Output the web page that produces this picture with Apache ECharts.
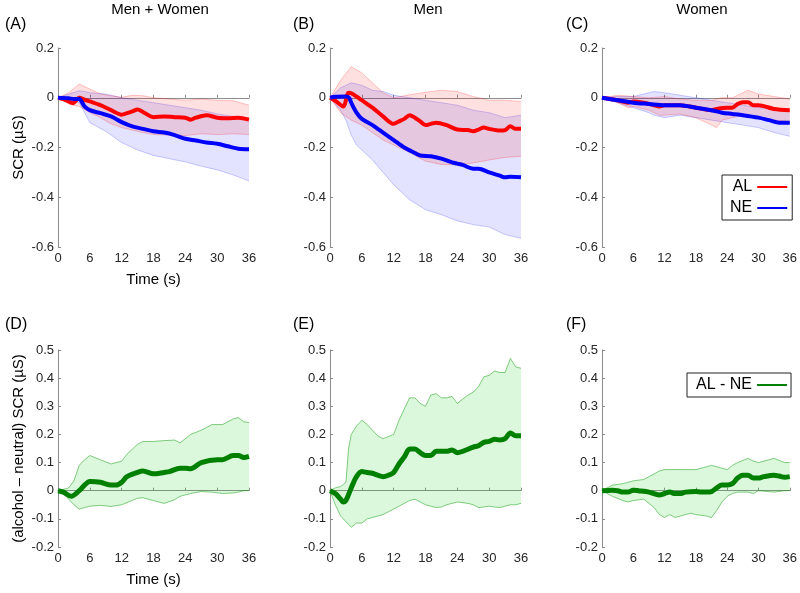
<!DOCTYPE html>
<html>
<head>
<meta charset="utf-8">
<script src="https://cdn.jsdelivr.net/npm/echarts@6/dist/echarts.min.js"></script>
<style>
  html, body { margin: 0; padding: 0; background: #fff; }
  #main { width: 800px; height: 593px; }
</style>
</head>
<body>
<div id="main"></div>
<script>
// 面板标题和刻度
var colTitles = ['Men + Women', 'Men', 'Women'];
var panelTags = ['(A)', '(B)', '(C)', '(D)', '(E)', '(F)'];
var xTicks = [0, 6, 12, 18, 24, 30, 36];

// 上排：AL / NE 均值 [t, v]
var meanA_AL = [[0,0],[1,-0.005],[2,-0.015],[2.8,-0.022],[4,0.0],[5,-0.008],[6,-0.015],[8,-0.03],[10,-0.05],[12,-0.068],[13,-0.062],[14,-0.055],[15,-0.047],[16,-0.057],[18,-0.078],[20,-0.075],[22,-0.078],[24,-0.08],[25,-0.088],[26,-0.08],[28,-0.07],[30,-0.08],[32,-0.082],[34,-0.08],[36,-0.088]];
var meanA_NE = [[0,0],[2,-0.002],[3,-0.005],[4,-0.005],[5,-0.035],[6,-0.05],[8,-0.062],[10,-0.075],[12,-0.098],[14,-0.115],[16,-0.125],[18,-0.135],[20,-0.14],[22,-0.15],[24,-0.165],[26,-0.172],[28,-0.18],[30,-0.185],[32,-0.195],[34,-0.205],[36,-0.207]];
var meanB_AL = [[0,0],[1,-0.012],[2.5,-0.035],[3.5,0.02],[4,0.018],[5,0.005],[6,-0.01],[8,-0.04],[10,-0.075],[12,-0.105],[13,-0.095],[14,-0.085],[15,-0.07],[16,-0.08],[17,-0.095],[18,-0.11],[19,-0.105],[20,-0.1],[22,-0.11],[24,-0.128],[26,-0.13],[27,-0.135],[28,-0.128],[29,-0.12],[30,-0.125],[32,-0.132],[33,-0.13],[34,-0.115],[35,-0.125],[36,-0.125]];
var meanB_NE = [[0,0],[1,0.004],[3,0.005],[3.6,0.0],[4,-0.02],[5,-0.06],[6,-0.085],[8,-0.11],[9,-0.125],[10,-0.14],[12,-0.17],[14,-0.2],[16,-0.222],[17,-0.232],[19,-0.235],[21,-0.245],[23,-0.26],[24,-0.265],[25,-0.27],[27,-0.285],[28,-0.285],[30,-0.3],[32,-0.313],[33,-0.32],[34,-0.318],[36,-0.32]];
var meanC_AL = [[0,0],[3,-0.01],[5,-0.02],[6,-0.015],[8,-0.02],[10,-0.03],[11,-0.035],[12,-0.03],[15,-0.03],[18,-0.04],[21,-0.05],[22,-0.045],[24,-0.04],[25,-0.04],[26,-0.025],[27,-0.018],[28,-0.018],[29,-0.03],[30,-0.03],[33,-0.045],[36,-0.05]];
var meanC_NE = [[0,0],[3,-0.01],[6,-0.02],[9,-0.025],[12,-0.03],[15,-0.03],[18,-0.04],[21,-0.05],[23,-0.06],[25,-0.065],[27,-0.07],[30,-0.08],[32,-0.09],[34,-0.1],[36,-0.1]];

// 上排置信带 [t, 下界, 上界]
var bandA_AL = [[0,0,0],[2,-0.025,0.02],[4,-0.035,0.055],[6,-0.06,0.035],[8,-0.08,0.015],[10,-0.105,0.008],[12,-0.12,0.002],[14,-0.13,0.01],[16,-0.14,0.008],[18,-0.148,0.0],[21,-0.15,-0.005],[24,-0.152,-0.01],[27,-0.145,-0.005],[30,-0.148,-0.01],[33,-0.145,-0.012],[36,-0.148,-0.03]];
var bandA_NE = [[0,0,0],[2,-0.01,0.015],[4,-0.02,0.028],[5,-0.06,0.025],[6,-0.1,0.02],[9,-0.135,0.015],[12,-0.18,0.0],[15,-0.21,-0.01],[18,-0.232,-0.02],[21,-0.245,-0.03],[24,-0.258,-0.04],[27,-0.275,-0.05],[30,-0.29,-0.065],[33,-0.31,-0.075],[36,-0.335,-0.085]];
var bandB_AL = [[0,0,0],[2,-0.06,0.07],[4,-0.09,0.125],[6,-0.11,0.1],[8,-0.14,0.06],[10,-0.17,0.02],[12,-0.19,0.0],[15,-0.22,0.012],[18,-0.255,0.022],[21,-0.268,0.03],[24,-0.27,0.025],[27,-0.262,0.005],[30,-0.25,-0.01],[33,-0.24,-0.01],[36,-0.235,-0.015]];
var bandB_NE = [[0,0,0],[2,-0.05,0.04],[3,-0.09,0.05],[4,-0.15,0.06],[5,-0.19,0.055],[6,-0.21,0.05],[8,-0.25,0.03],[10,-0.3,0.025],[12,-0.35,0.01],[15,-0.41,0.0],[18,-0.45,-0.01],[21,-0.47,-0.02],[24,-0.495,-0.03],[27,-0.51,-0.05],[30,-0.52,-0.06],[33,-0.55,-0.08],[36,-0.565,-0.07]];
var bandC_AL = [[0,0,0],[3,-0.02,0.01],[5,-0.04,0.007],[6,-0.035,0.005],[9,-0.05,0.0],[11,-0.07,0.003],[12,-0.07,0.005],[15,-0.065,-0.005],[18,-0.08,-0.01],[21,-0.11,-0.01],[22,-0.12,-0.005],[23,-0.09,0.0],[25,-0.08,0.0],[26,-0.075,0.01],[28,-0.07,0.03],[30,-0.08,0.015],[33,-0.09,0.005],[36,-0.095,-0.005]];
var bandC_NE = [[0,0,0],[3,-0.02,0.005],[6,-0.04,0.005],[9,-0.06,0.02],[10,-0.07,0.025],[12,-0.08,0.02],[15,-0.07,0.01],[18,-0.08,0.0],[21,-0.09,-0.01],[24,-0.1,-0.02],[27,-0.11,-0.03],[30,-0.12,-0.04],[33,-0.14,-0.045],[36,-0.155,-0.05]];

// 下排：AL - NE 差值
var diffD = [[0,0],[1,-0.005],[2.5,-0.02],[4,0.0],[5,0.02],[6,0.033],[8,0.03],[10,0.02],[11,0.02],[12,0.03],[13,0.05],[15,0.065],[16,0.07],[18,0.06],[20,0.065],[21,0.068],[23,0.08],[24,0.08],[25,0.078],[27,0.1],[30,0.11],[31,0.11],[33,0.125],[34,0.125],[35,0.118],[36,0.122]];
var diffE = [[0,0],[1,-0.01],[2,-0.03],[2.5,-0.04],[3,-0.035],[4,0.01],[5,0.05],[6,0.068],[7,0.065],[8,0.062],[9,0.055],[10,0.05],[11,0.055],[12,0.065],[13,0.095],[14,0.12],[15,0.148],[16,0.148],[17,0.135],[18,0.125],[19,0.125],[20,0.14],[21,0.14],[22,0.14],[23,0.145],[24,0.135],[25,0.14],[27,0.155],[28,0.16],[29,0.172],[30,0.175],[31,0.183],[32,0.18],[33,0.185],[34,0.205],[35,0.195],[36,0.195]];
var diffF = [[0,0],[2,0.002],[3,0.0],[4,-0.005],[5,-0.005],[6,0.002],[7,0.0],[9,-0.005],[11,-0.015],[12,-0.01],[13,-0.005],[14,-0.01],[15,-0.01],[16,-0.005],[18,-0.003],[19,-0.005],[20,-0.005],[21,-0.003],[22,0.01],[23,0.02],[24,0.02],[25,0.025],[26,0.045],[27,0.055],[28,0.055],[29,0.045],[30,0.045],[31,0.05],[33,0.055],[34,0.052],[35,0.048],[36,0.05]];
var bandD = [[0,0,0],[1,-0.01,0.005],[2,-0.03,0.01],[3,-0.05,0.035],[4,-0.065,0.09],[5,-0.06,0.11],[6,-0.055,0.125],[8,-0.052,0.11],[10,-0.056,0.095],[12,-0.05,0.105],[13,-0.042,0.13],[15,-0.027,0.165],[16,-0.025,0.175],[18,-0.035,0.175],[20,-0.045,0.178],[22,-0.032,0.18],[23,-0.02,0.17],[25,-0.01,0.2],[27,-0.003,0.215],[29,-0.005,0.235],[31,-0.01,0.235],[33,-0.008,0.255],[34,-0.005,0.26],[35,0.0,0.245],[36,0.0,0.242]];
var bandE = [[0,0,0],[1,-0.05,0.01],[2,-0.09,0.015],[3,-0.11,0.03],[3.5,-0.12,0.15],[4,-0.13,0.2],[5,-0.115,0.23],[6,-0.115,0.25],[7,-0.1,0.235],[8,-0.095,0.215],[9,-0.09,0.195],[10,-0.085,0.185],[12,-0.065,0.2],[13,-0.055,0.25],[14,-0.045,0.29],[15,-0.035,0.33],[16,-0.03,0.33],[17,-0.04,0.31],[18,-0.05,0.3],[19,-0.055,0.34],[20,-0.06,0.345],[21,-0.058,0.33],[22,-0.05,0.33],[23,-0.045,0.335],[24,-0.04,0.31],[26,-0.045,0.34],[27,-0.05,0.35],[28,-0.06,0.37],[29,-0.058,0.405],[30,-0.055,0.41],[31,-0.058,0.425],[32,-0.06,0.42],[33,-0.055,0.42],[34,-0.05,0.47],[35,-0.05,0.44],[36,-0.045,0.435]];
var bandF = [[0,0,0],[2,-0.02,0.02],[4,-0.035,0.025],[5,-0.04,0.03],[6,-0.035,0.035],[8,-0.03,0.04],[10,-0.06,0.06],[11,-0.085,0.07],[12,-0.095,0.075],[13,-0.085,0.075],[14,-0.095,0.075],[15,-0.09,0.075],[17,-0.08,0.075],[18,-0.085,0.075],[20,-0.09,0.085],[21,-0.095,0.09],[22,-0.07,0.085],[23,-0.04,0.08],[24,-0.02,0.075],[25,-0.01,0.09],[26,-0.005,0.1],[28,-0.005,0.115],[29,-0.01,0.105],[30,0.0,0.1],[33,-0.005,0.115],[35,0.0,0.1],[36,0.0,0.1]];

var RED = '#ff0000', BLUE = '#0000ff', GREEN = '#008000';

var chart = echarts.init(document.getElementById('main'));

var lefts = [58, 330, 602];
var grids = [], xAxes = [], yAxes = [];
for (var r = 0; r < 2; r++) {
  for (var c = 0; c < 3; c++) {
    var i = r * 3 + c;
    grids.push({ left: lefts[c], width: 191, top: r === 0 ? 48 : 350, height: r === 0 ? 199 : 197 });
    xAxes.push({
      type: 'value', gridIndex: i, min: 0, max: 36, interval: 6,
      name: c === 0 ? 'Time (s)' : '', nameLocation: 'middle', nameGap: 25,
      nameTextStyle: { fontSize: 15, color: '#000', fontFamily: 'Liberation Sans' },
      axisLine: { lineStyle: { color: '#8c8c8c' } },
      axisTick: { inside: true, length: 3, lineStyle: { color: '#8c8c8c' } },
      axisLabel: { fontSize: 13, color: '#262626', margin: 5, fontFamily: 'Liberation Sans' },
      splitLine: { show: false }
    });
    yAxes.push({
      type: 'value', gridIndex: i,
      min: r === 0 ? -0.6 : -0.2, max: r === 0 ? 0.2 : 0.5, interval: r === 0 ? 0.2 : 0.1,
      name: c === 0 ? (r === 0 ? 'SCR (µS)' : '(alcohol – neutral) SCR (µS)') : '',
      nameLocation: 'middle', nameGap: 32,
      nameTextStyle: { fontSize: 15, color: '#000', fontFamily: 'Liberation Sans' },
      axisLine: { show: true, lineStyle: { color: '#8c8c8c' } },
      axisTick: { show: true, inside: true, length: 3, lineStyle: { color: '#8c8c8c' } },
      axisLabel: { fontSize: 13, color: '#262626', margin: 4, fontFamily: 'Liberation Sans' },
      splitLine: { show: false }
    });
  }
}

// 置信带：custom 系列，用坐标轴换算画多边形
function bandSeries(band, idx, edge, fill) {
  return {
    type: 'custom', xAxisIndex: idx, yAxisIndex: idx, data: band, silent: true, z: 1,
    encode: { x: 0, y: [1, 2] },
    renderItem: function (params, api) {
      if (params.dataIndex !== 0) return;
      var lo = band.map(function (p) { return api.coord([p[0], p[1]]); });
      var hi = band.map(function (p) { return api.coord([p[0], p[2]]); });
      var poly = lo.concat(hi.slice().reverse());
      return {
        type: 'group',
        children: [
          { type: 'polygon', shape: { points: poly }, style: { fill: fill, stroke: null } },
          { type: 'polyline', shape: { points: lo }, style: { fill: null, stroke: edge, lineWidth: 0.8 } },
          { type: 'polyline', shape: { points: hi }, style: { fill: null, stroke: edge, lineWidth: 0.8 } }
        ]
      };
    }
  };
}
function meanSeries(name, data, idx, color, w) {
  return {
    name: name, type: 'line', xAxisIndex: idx, yAxisIndex: idx, data: data,
    symbol: 'none', smooth: 0.3, z: 5, lineStyle: { width: w, color: color },
    itemStyle: { color: color }
  };
}

var redEdge = 'rgba(255,0,0,0.28)', redFill = 'rgba(255,0,0,0.12)';
var blueEdge = 'rgba(0,0,255,0.25)', blueFill = 'rgba(0,0,255,0.11)';
var greenEdge = 'rgba(0,150,0,0.6)', greenFill = 'rgba(40,210,40,0.16)';

var series = [
  bandSeries(bandA_NE, 0, blueEdge, blueFill),
  bandSeries(bandA_AL, 0, redEdge, redFill),
  bandSeries(bandB_NE, 1, blueEdge, blueFill),
  bandSeries(bandB_AL, 1, redEdge, redFill),
  bandSeries(bandC_NE, 2, blueEdge, blueFill),
  bandSeries(bandC_AL, 2, redEdge, redFill),
  bandSeries(bandD, 3, greenEdge, greenFill),
  bandSeries(bandE, 4, greenEdge, greenFill),
  bandSeries(bandF, 5, greenEdge, greenFill),
  meanSeries('AL', meanC_AL, 2, RED, 4),
  meanSeries('NE', meanC_NE, 2, BLUE, 4),
  meanSeries('AL', meanA_AL, 0, RED, 4),
  meanSeries('NE', meanA_NE, 0, BLUE, 4),
  meanSeries('AL', meanB_AL, 1, RED, 4),
  meanSeries('NE', meanB_NE, 1, BLUE, 4),
  meanSeries('AL - NE', diffF, 5, GREEN, 5),
  meanSeries('AL - NE', diffD, 3, GREEN, 5),
  meanSeries('AL - NE', diffE, 4, GREEN, 5)
];

var titles = [];
var titleX = [155, 423, 697];
colTitles.forEach(function (t, k) {
  titles.push({ text: t, left: titleX[k], top: -3, textAlign: 'center',
    textStyle: { fontSize: 15, fontWeight: 'normal', color: '#000', fontFamily: 'Liberation Sans' } });
});
var tagX = [0, 288, 561];
panelTags.forEach(function (t, k) {
  titles.push({ text: t, left: tagX[k % 3], top: k < 3 ? 12 : 312,
    textStyle: { fontSize: 16, fontWeight: 'normal', color: '#000', fontFamily: 'Liberation Sans' } });
});

var legendCommon = {
  orient: 'vertical', align: 'right', icon: 'rect', itemWidth: 30, itemHeight: 2, itemGap: 5,
  backgroundColor: '#fff', borderColor: '#222', borderWidth: 1, borderRadius: 0,
  textStyle: { fontSize: 16, color: '#000', fontFamily: 'Liberation Sans' },
  selectedMode: false
};

chart.setOption({
  backgroundColor: '#ffffff',
  animation: false,
  title: titles,
  legend: [
    Object.assign({ data: ['AL', 'NE'], left: 722, top: 175, padding: [4, 5, 4, 8] }, legendCommon),
    Object.assign({ data: ['AL - NE'], left: 687, top: 373, padding: [4, 4, 4, 9] }, legendCommon)
  ],
  grid: grids,
  xAxis: xAxes,
  yAxis: yAxes,
  series: series
});
</script>
</body>
</html>
